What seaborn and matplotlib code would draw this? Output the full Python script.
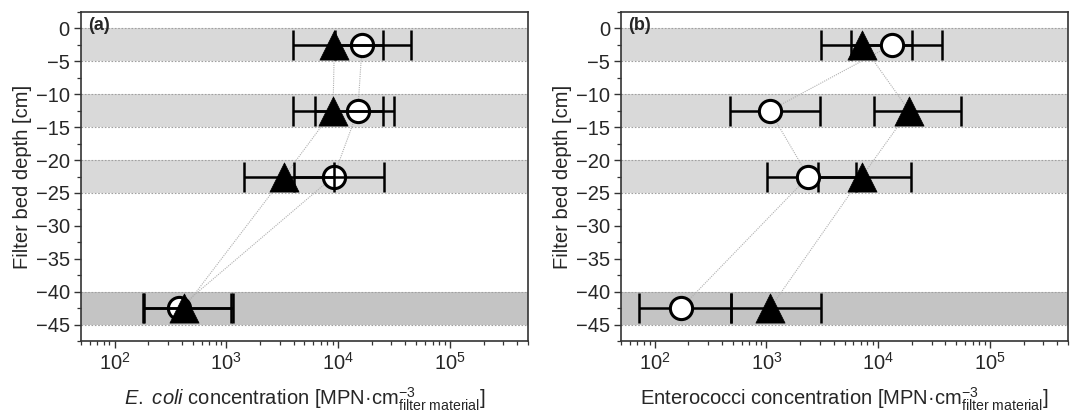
import numpy as np
import pandas as pd
import matplotlib
matplotlib.use("Agg")
import matplotlib.pyplot as plt
from matplotlib.ticker import MultipleLocator, LogLocator, NullFormatter
import seaborn as sns

# ==========================================
# DATA
# ==========================================
depths = [-2.5, -12.5, -22.5, -42.5]

# panel (a) E. coli
ecoli_circle = [16400, 15000, 9120, 376]
ecoli_circle_lo = [9400, 6220, 4040, 179]
ecoli_circle_hi = [44900, 31600, 25500, 1100]
ecoli_triangle = [9250, 9000, 3290, 417]
ecoli_triangle_lo = [3950, 3950, 1445, 182]
ecoli_triangle_hi = [25100, 25100, 9120, 1140]

# panel (b) Enterococci
entero_circle = [13200, 1070, 2370, 172]
entero_circle_lo = [5680, 468, 1014, 73]
entero_circle_hi = [37200, 3040, 6330, 480]
entero_triangle = [7210, 18900, 7160, 1080]
entero_triangle_lo = [3090, 9120, 2910, 485]
entero_triangle_hi = [20200, 55600, 19500, 3100]

bands_light = [(0, -5), (-10, -15), (-20, -25)]
bands_dark = [(-40, -45)]
grid_lines = [0, -5, -10, -15, -20, -25, -40, -45]

# ==========================================
# STYLE
# ==========================================
sns.set_theme(style="ticks")
plt.rcParams['font.family'] = ['Liberation Sans', 'DejaVu Sans']
plt.rcParams['mathtext.fontset'] = 'custom'
plt.rcParams['mathtext.rm'] = 'Liberation Sans'
plt.rcParams['mathtext.it'] = 'Liberation Sans:italic'
plt.rcParams['mathtext.bf'] = 'Liberation Sans:bold'


def make_df(circ, circ_lo, circ_hi, tri, tri_lo, tri_hi):
    a = pd.DataFrame({'depth': depths, 'conc': circ, 'lo': circ_lo, 'hi': circ_hi, 'kind': 'circle'})
    b = pd.DataFrame({'depth': depths, 'conc': tri, 'lo': tri_lo, 'hi': tri_hi, 'kind': 'triangle'})
    return pd.concat([a, b], ignore_index=True)


panels = [
    (make_df(ecoli_circle, ecoli_circle_lo, ecoli_circle_hi,
             ecoli_triangle, ecoli_triangle_lo, ecoli_triangle_hi),
     "(a)", r"$\it{E.}$ $\it{coli}$ concentration [MPN·cm$^{-3}_{\rm filter\ material}$]", True),
    (make_df(entero_circle, entero_circle_lo, entero_circle_hi,
             entero_triangle, entero_triangle_lo, entero_triangle_hi),
     "(b)", r"Enterococci concentration [MPN·cm$^{-3}_{\rm filter\ material}$]", False),
]

fig = plt.figure(figsize=(10.78, 4.18), dpi=100)
axes = [fig.add_axes([0.0751, 0.1842, 0.4147, 0.7871]),
        fig.add_axes([0.5761, 0.1842, 0.4147, 0.7871])]

styles = {
    'circle': dict(marker='o', s=16 ** 2, color='white', edgecolor='black', linewidth=2.2),
    'triangle': dict(marker='^', s=21 ** 2, color='black', edgecolor='black', linewidth=0.5),
}

for ax, (df, tag, xlabel, bars_on_top) in zip(axes, panels):
    ax.set_xscale('log')
    ax.set_xlim(50, 5e5)
    ax.set_ylim(-47.5, 2.5)

    # shaded depth bands and dotted boundaries
    for top, bot in bands_light:
        ax.axhspan(bot, top, color='#d9d9d9', lw=0, zorder=0)
    for top, bot in bands_dark:
        ax.axhspan(bot, top, color='#c4c4c4', lw=0, zorder=0)
    for y in grid_lines:
        ax.axhline(y, color='#a0a0a0', lw=0.8, ls=(0, (1.5, 1.5)), zorder=1)

    for kind in ['circle', 'triangle']:
        d = df[df['kind'] == kind]
        # thin dotted connector through depths
        ax.plot(d['conc'], d['depth'], color='#b0b0b0', lw=0.8, ls=(0, (1, 1)), zorder=2)
        xerr = [d['conc'] - d['lo'], d['hi'] - d['conc']]
        ax.errorbar(d['conc'], d['depth'], xerr=xerr, fmt='none', ecolor='black',
                    elinewidth=1.8, capsize=11, capthick=1.8,
                    zorder=6 if bars_on_top else 3)

    for kind in ['circle', 'triangle']:
        d = df[df['kind'] == kind]
        st = styles[kind]
        sns.scatterplot(x=d['conc'], y=d['depth'], ax=ax, marker=st['marker'], s=st['s'],
                        color=st['color'], edgecolor=st['edgecolor'], linewidth=st['linewidth'],
                        zorder=4 if kind == 'circle' else 5, legend=False)

    ax.yaxis.set_major_locator(MultipleLocator(5))
    ax.yaxis.set_minor_locator(MultipleLocator(2.5))
    ax.xaxis.set_major_locator(LogLocator(base=10, numticks=10))
    ax.xaxis.set_minor_locator(LogLocator(base=10, subs=np.arange(2, 10), numticks=20))
    ax.xaxis.set_minor_formatter(NullFormatter())
    ax.tick_params(axis='both', which='major', direction='out', length=5, width=1.0,
                   labelsize=14.5, color='#333333', pad=3)
    ax.tick_params(axis='both', which='minor', direction='out', length=3, width=0.9, color='#333333')
    ax.tick_params(top=False, right=False, which='both')
    for sp in ax.spines.values():
        sp.set_visible(True)
        sp.set_color('#333333')
        sp.set_linewidth(1.2)

    ax.set_xlabel(xlabel, fontsize=14.5, labelpad=8)
    ax.set_ylabel("Filter bed depth [cm]", fontsize=14.5, labelpad=3)
    ax.text(0.016, 0.985, tag, transform=ax.transAxes, fontsize=13,
            fontweight='bold', va='top', ha='left', zorder=7)

plt.savefig('out.png', dpi=100)
print("Saved out.png")
